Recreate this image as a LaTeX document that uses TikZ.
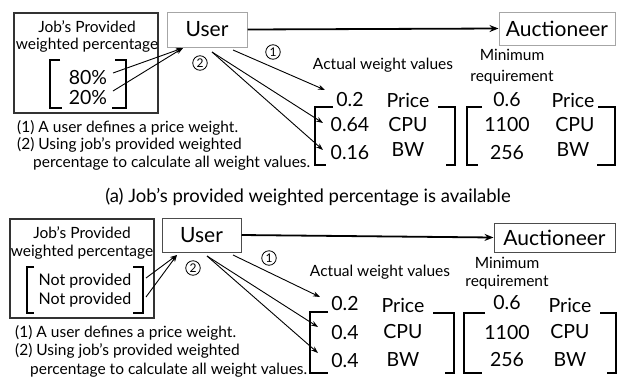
\documentclass[tikz,border=0pt]{standalone}
\usepackage{fontspec}
\setmainfont{Lato}
\usetikzlibrary{arrows.meta}
\begin{document}
\begin{tikzpicture}[x=1pt,y=-1pt,
  every node/.style={inner sep=0pt},
  sm/.style={font=\fontsize{15.5}{17}\selectfont},
  md/.style={font=\fontsize{19.5}{21}\selectfont},
  hd/.style={font=\fontsize{21}{23}\selectfont},
  captxt/.style={font=\fontsize{18.5}{20}\selectfont},
  circ/.style={circle,draw,line width=0.8pt,minimum size=14.5pt,font=\fontsize{12}{13}\selectfont},
  arr/.style={-{Stealth[length=7pt,width=5pt]},line width=0.9pt},
  mainarr/.style={-{Stealth[length=9pt,width=7pt]},line width=1.8pt},
  brk/.style={line width=1.2pt},
  gbox/.style={draw=gray!70,line width=1pt},
  kbox/.style={draw=black!80,line width=1.3pt}]
\useasboundingbox (0,0) rectangle (617,378);

% ================= Panel (a) =================
\node[kbox,minimum width=144pt,minimum height=100pt] (jbA) at (86,63) {};
\node[sm] (jtA1) at (87,27) {Job's Provided};
\node[sm] (jtA2) at (87,45) {weighted percentage};
\node[md] (pA1) at (88,78) {80\%};
\node[md] (pA2) at (88,98) {20\%};
\draw[brk] (60,60) -- (50,60) -- (50,108) -- (62,108);
\draw[brk] (115,60) -- (126,60) -- (126,108) -- (112,108);

\node[gbox,hd,minimum width=80pt,minimum height=35pt] (userA) at (207,29.5) {User};
\node[gbox,hd,minimum width=116pt,minimum height=33pt] (aucA) at (557,28.5) {Auctioneer};
\draw[mainarr] (userA.east) -- (aucA.west);

\coordinate (sA1) at (113,73);
\coordinate (sA2) at (113,91);
\coordinate (tA) at (183,48);
\draw[arr] (sA1) -- (tA);
\draw[arr] (sA2) -- (tA);
\node[circ] (c2A) at (200,63) {2};
\node[circ] (c1A) at (273,52) {1};

\node[sm] (awA) at (383,65) {Actual weight values};
\node[sm] (mnA1) at (512,55) {Minimum};
\node[sm] (mnA2) at (512,77) {requirement};

\node[md] (vA1) at (350,100) {0.2};
\node[md] (vA2) at (350,125) {0.64};
\node[md] (vA3) at (350,153) {0.16};
\node[md] (nA1) at (408,100) {Price};
\node[md] (nA2) at (408,125) {CPU};
\node[md] (nA3) at (408,150) {BW};
\node[md] (rA1) at (507,100) {0.6};
\node[md] (rA2) at (507,125) {1100};
\node[md] (rA3) at (507,153) {256};
\node[md] (qA1) at (573,100) {Price};
\node[md] (qA2) at (575,125) {CPU};
\node[md] (qA3) at (573,150) {BW};

\coordinate (uA1) at (233,50);
\coordinate (uA2) at (212,52);
\coordinate (eA1) at (325,90);
\coordinate (eA2) at (323,123);
\coordinate (eA3) at (323,150);
\draw[arr] (uA1) -- (eA1);
\draw[arr] (uA2) -- (eA2);
\draw[arr] (uA2) -- (eA3);

\draw[brk] (333,107) -- (315,107) -- (315,165) -- (326,165);
\draw[brk] (438,107) -- (455,107) -- (455,165) -- (446,165);
\draw[brk] (482,107) -- (467,107) -- (467,165) -- (478,165);
\draw[brk] (598,107) -- (615,107) -- (615,165) -- (597,165);

\node[sm,anchor=west] (tA1) at (17,128) {(1) A user defines a price weight.};
\node[sm,anchor=west] (tA2) at (17,145) {(2) Using job's provided weighted};
\node[sm,anchor=west] (tA3) at (33,163) {percentage to calculate all weight values.};

\node[captxt] (capA) at (308,197) {(a) Job's provided weighted percentage is available};

% ================= Panel (b) =================
\node[kbox,minimum width=144pt,minimum height=99pt] (jbB) at (82,268.5) {};
\node[sm] (jtB1) at (82,233) {Job's Provided};
\node[sm] (jtB2) at (82,252) {weighted percentage};
\node[font=\fontsize{16}{18}\selectfont] (pB1) at (85,281) {Not provided};
\node[font=\fontsize{16}{18}\selectfont] (pB2) at (85,300) {Not provided};
\draw[brk] (34,267) -- (27,267) -- (27,313) -- (34,313);
\draw[brk] (133,267) -- (143,267) -- (143,313) -- (133,313);

\node[draw=black!70,line width=1pt,hd,minimum width=79pt,minimum height=34pt] (userB) at (201.5,235) {User};
\node[draw=black!70,line width=1pt,hd,minimum width=121pt,minimum height=29pt] (aucB) at (554.5,237.5) {Auctioneer};
\draw[mainarr] (userB.east) -- (aucB.west);

\coordinate (sB1) at (146,278);
\coordinate (sB2) at (146,297);
\coordinate (tB) at (177,255);
\draw[arr] (sB1) -- (tB);
\draw[arr] (sB2) -- (tB);
\node[circ] (c2B) at (193,268) {2};
\node[circ] (c1B) at (269,258) {1};

\node[sm] (awB) at (380,272) {Actual weight values};
\node[sm] (mnB1) at (507,263) {Minimum};
\node[sm] (mnB2) at (507,282) {requirement};

\node[md] (vB1) at (345,304) {0.2};
\node[md] (vB2) at (345,332) {0.4};
\node[md] (vB3) at (345,360) {0.4};
\node[md] (nB1) at (403,305) {Price};
\node[md] (nB2) at (403,332) {CPU};
\node[md] (nB3) at (403,360) {BW};
\node[md] (rB1) at (507,303) {0.6};
\node[md] (rB2) at (507,332) {1100};
\node[md] (rB3) at (507,360) {256};
\node[md] (qB1) at (570,305) {Price};
\node[md] (qB2) at (570,332) {CPU};
\node[md] (qB3) at (570,360) {BW};

\coordinate (uB1) at (233,255);
\coordinate (uB2) at (207,256);
\coordinate (eB1) at (320,297);
\coordinate (eB2) at (318,327);
\coordinate (eB3) at (318,353);
\draw[arr] (uB1) -- (eB1);
\draw[arr] (uB2) -- (eB2);
\draw[arr] (uB2) -- (eB3);

\draw[brk] (328,312) -- (310,312) -- (310,373) -- (328,373);
\draw[brk] (433,313) -- (454,313) -- (454,373) -- (445,373);
\draw[brk] (485,313) -- (464,313) -- (464,373) -- (482,373);
\draw[brk] (600,313) -- (616,313) -- (616,373) -- (607,373);

\node[sm,anchor=west] (tB1) at (15,333) {(1) A user defines a price weight.};
\node[sm,anchor=west] (tB2) at (15,351) {(2) Using job's provided weighted};
\node[sm,anchor=west] (tB3) at (30,370) {percentage to calculate all weight values.};
\end{tikzpicture}
\end{document}
